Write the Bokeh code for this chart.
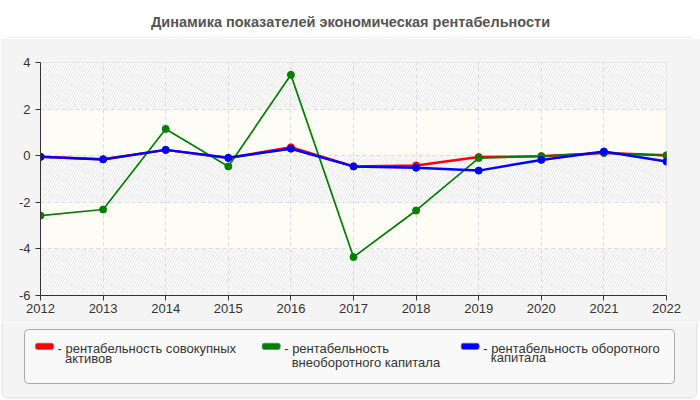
from bokeh.plotting import figure
from bokeh.layouts import column
from bokeh.models import Range1d, FixedTicker, BoxAnnotation
from bokeh.core.properties import value
from bokeh.embed import file_html
from bokeh.resources import INLINE

# values
years = [2012, 2013, 2014, 2015, 2016, 2017, 2018, 2019, 2020, 2021, 2022]
total_assets = [-0.05, -0.15, 0.25, -0.10, 0.36, -0.46, -0.42, -0.06, -0.02, 0.12, 0.02]
noncurrent_capital = [-2.57, -2.31, 1.15, -0.46, 3.47, -4.35, -2.35, -0.10, -0.02, 0.12, 0.0]
current_capital = [-0.05, -0.16, 0.25, -0.09, 0.30, -0.46, -0.52, -0.64, -0.18, 0.18, -0.25]
y_ticks = [-6, -4, -2, 0, 2, 4]
y_tick_labels = ["-6", "-4", "-2", "0", "2", "4"]

title_text = "Динамика показателей экономическая рентабельности"
series_colors = ["#ff0000", "#008000", "#0000ff"]
legend_first = ["- рентабельность совокупных", "- рентабельность", "- рентабельность оборотного"]
legend_second = ["активов", "внеоборотного капитала", "капитала"]

W = 700
FONT = "Liberation Sans"
PANEL = "#f4f4f4"
PANEL_LINE = "#e0e0e0"


def blank_figure(height):
	# a figure whose frame is the whole canvas, y measured from the top
	f = figure(width=W, height=height, output_backend="svg", toolbar_location=None,
			   x_range=Range1d(0, W), y_range=Range1d(height, 0),
			   min_border=0, outline_line_color=None, frame_align=False)
	f.axis.visible = False
	f.grid.visible = False
	return f


def main():
	# header with the title
	head = blank_figure(38)
	head.background_fill_color = "white"
	head.text(x=[W / 2], y=[21], text=[title_text], text_align="center",
			  text_baseline="middle", text_font=value(FONT), text_font_size="14.5px",
			  text_font_style="bold", text_color="#555555")
	head.quad(left=[1.5], right=[696.5], top=[37.5], bottom=[60], fill_color=PANEL,
			  line_color=PANEL_LINE, line_width=1, border_radius=6)

	# the chart
	p = figure(width=W, height=284, output_backend="svg", toolbar_location=None,
			   x_range=Range1d(2012, 2022), y_range=Range1d(-6, 4),
			   min_border_left=40, min_border_right=34, min_border_top=24, min_border_bottom=27,
			   border_fill_color=PANEL, background_fill_color="white",
			   outline_line_color="#dddddd", frame_align=False)

	# alternating bands: hatched / plain
	for lo, hi in zip(y_ticks[:-1], y_ticks[1:]):
		if (lo // 2) % 2 == 1:
			p.add_layout(BoxAnnotation(bottom=lo, top=hi, fill_color="white", fill_alpha=1,
									   hatch_pattern="/", hatch_color="#e6e6e6", hatch_scale=5,
									   hatch_weight=1, line_alpha=0, level="image"))
		else:
			p.add_layout(BoxAnnotation(bottom=lo, top=hi, fill_color="#fdfdf6", fill_alpha=1,
									   line_alpha=0, level="image"))

	p.line(years, total_assets, color=series_colors[0], line_width=2.5)
	p.scatter(years, total_assets, color=series_colors[0], size=7)
	p.line(years, noncurrent_capital, color=series_colors[1], line_width=1.7)
	p.scatter(years, noncurrent_capital, color=series_colors[1], size=7)
	p.line(years, current_capital, color=series_colors[2], line_width=2.5)
	p.scatter(years, current_capital, color=series_colors[2], size=7)

	p.xaxis.ticker = FixedTicker(ticks=years)
	p.yaxis.ticker = FixedTicker(ticks=y_ticks)
	p.xaxis.major_label_overrides = {float(y): str(y) for y in years}
	p.yaxis.major_label_overrides = {float(t): s for t, s in zip(y_ticks, y_tick_labels)}
	for ax in (p.xaxis, p.yaxis):
		ax.axis_line_color = "#333333"
		ax.major_tick_line_color = "#333333"
		ax.major_tick_out = 5
		ax.major_tick_in = 0
		ax.minor_tick_line_color = None
		ax.major_label_text_font = FONT
		ax.major_label_text_font_size = "13px"
		ax.major_label_text_color = "#333333"
	p.xaxis.major_label_standoff = 3
	p.yaxis.major_label_standoff = 5

	p.xgrid.ticker = FixedTicker(ticks=years)
	p.ygrid.ticker = FixedTicker(ticks=y_ticks)
	p.grid.grid_line_color = "#dcdcdc"
	p.grid.grid_line_dash = "4 3"

	# legend panel
	leg = blank_figure(78)
	leg.background_fill_color = "white"
	leg.quad(left=[1.5], right=[696.5], top=[-20], bottom=[75.5], fill_color=PANEL,
			 line_color=PANEL_LINE, line_width=1, border_radius=6)
	leg.quad(left=[24], right=[674], top=[7], bottom=[61], fill_color="#f9f9f9",
			 line_color="#aaaaaa", line_width=1, border_radius=4)
	swatch_x = [35, 261.7, 460.7]
	second_y = [35.5, 39.7, 35]
	leg.quad(left=swatch_x, right=[x + 18 for x in swatch_x], top=[20.7] * 3, bottom=[27] * 3,
			 fill_color=series_colors, line_color="#777777", line_width=0.7, border_radius=2)
	leg.text(x=[x + 22 for x in swatch_x], y=[25.5] * 3, text=legend_first,
			 text_baseline="middle", text_font=value(FONT), text_font_size="13px",
			 text_color="#333333")
	leg.text(x=[x + 29.5 for x in swatch_x], y=second_y, text=legend_second,
			 text_baseline="middle", text_font=value(FONT), text_font_size="13px",
			 text_color="#333333")

	page = column(head, p, leg, spacing=0)
	open("out.html", "w").write(file_html(page, INLINE))


if __name__ == "__main__":
	main()
